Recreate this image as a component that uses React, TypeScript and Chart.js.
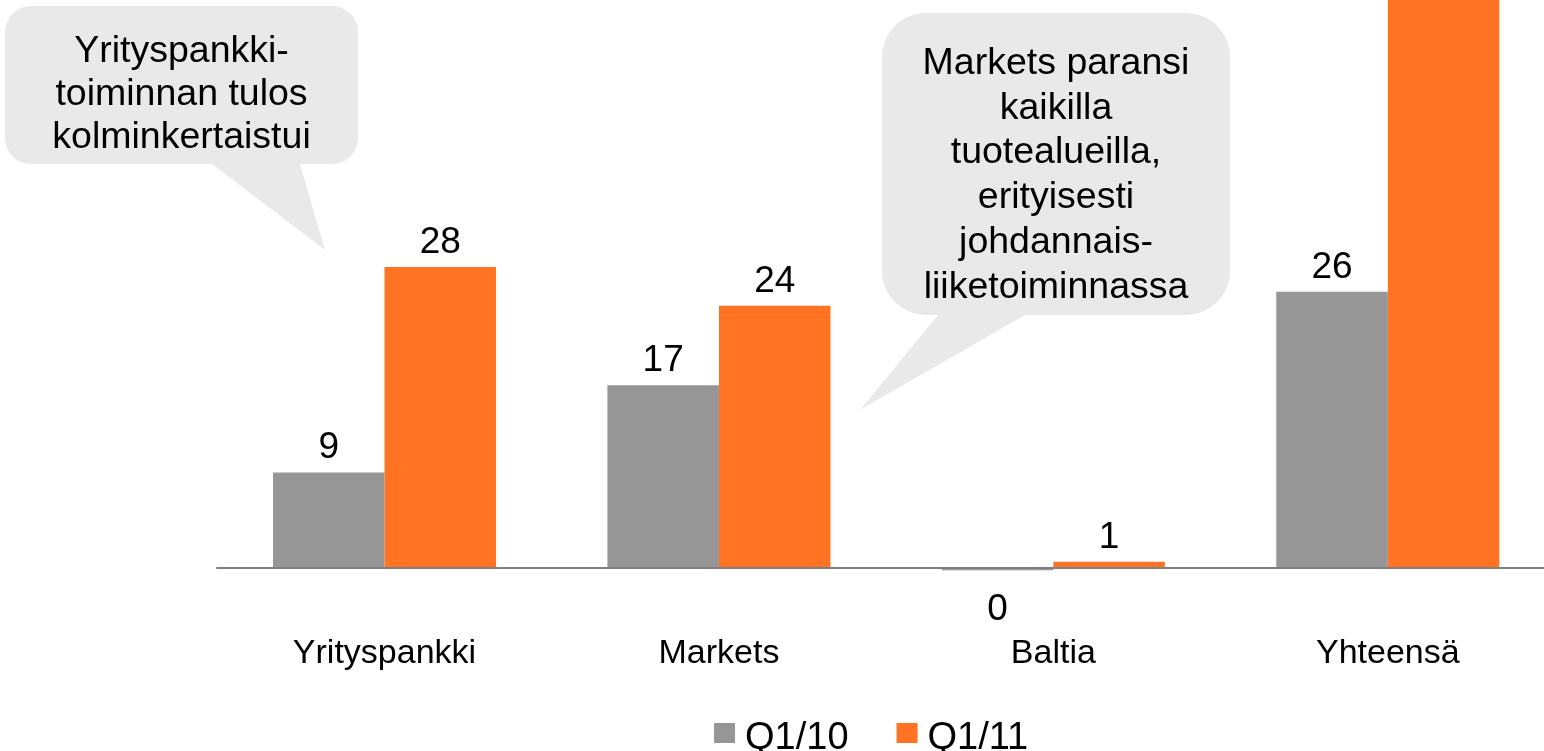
import React, { useEffect, useRef } from "react";
import { Chart, registerables } from "chart.js";

Chart.register(...registerables);

const categories = ["Yrityspankki", "Markets", "Baltia", "Yhteensä"];
const seriesLabels = ["Q1/10", "Q1/11"];
const q110 = [8.9, 17.0, -0.2, 25.7];
const q111 = [28.0, 24.4, 0.6, 53.0];

const FONT = "'Liberation Sans', Arial, Helvetica, sans-serif";
const GRAY = "#969696";
const ORANGE = "#FF7322";
const BUBBLE = "#E9E9E9";

const callouts = [
  {
    box: [5, 6, 358, 164],
    radius: 26,
    tail: [[212, 164], [300, 164], [325, 250]],
    lines: ["Yrityspankki-", "toiminnan tulos", "kolminkertaistui"],
    firstBaseline: 61.5,
    lineGap: 43.4,
  },
  {
    box: [882, 13, 1230, 315],
    radius: 44,
    tail: [[938, 315], [1025, 315], [860, 410]],
    lines: ["Markets paransi", "kaikilla", "tuotealueilla,", "erityisesti", "johdannais-", "liiketoiminnassa"],
    firstBaseline: 74,
    lineGap: 44.7,
  },
];

const overlayPlugin = {
  id: "overlay",
  afterDatasetsDraw(chart: any) {
    const { ctx, chartArea } = chart;
    const y = chart.scales.y;
    // zero line
    const y0 = y.getPixelForValue(0);
    ctx.save();
    ctx.strokeStyle = "#7f7f7f";
    ctx.lineWidth = 2;
    ctx.beginPath();
    ctx.moveTo(chartArea.left - 1, y0);
    ctx.lineTo(chartArea.right, y0);
    ctx.stroke();
    ctx.restore();

    // value labels
    ctx.save();
    ctx.font = `37px ${FONT}`;
    ctx.fillStyle = "#000";
    ctx.textAlign = "center";
    ctx.textBaseline = "alphabetic";
    chart.data.datasets.forEach((ds: any, di: number) => {
      const meta = chart.getDatasetMeta(di);
      meta.data.forEach((bar: any, i: number) => {
        const v = ds.data[i];
        const txt = String(Math.round(v) === 0 ? 0 : Math.round(v));
        if (v >= 0) {
          ctx.fillText(txt, bar.x, bar.y - 14);
        } else {
          ctx.fillText(txt, bar.x, bar.y + 50);
        }
      });
    });
    ctx.restore();
  },
  afterDraw(chart: any) {
    const { ctx, chartArea } = chart;
    // callouts
    callouts.forEach((c) => {
      const [x1, y1, x2, y2] = c.box;
      ctx.save();
      ctx.fillStyle = BUBBLE;
      ctx.beginPath();
      ctx.roundRect(x1, y1, x2 - x1, y2 - y1, c.radius);
      ctx.fill();
      ctx.beginPath();
      ctx.moveTo(c.tail[0][0], c.tail[0][1] - 6);
      ctx.lineTo(c.tail[1][0], c.tail[1][1] - 6);
      ctx.lineTo(c.tail[1][0], c.tail[1][1]);
      ctx.lineTo(c.tail[2][0], c.tail[2][1]);
      ctx.lineTo(c.tail[0][0], c.tail[0][1]);
      ctx.closePath();
      ctx.fill();
      ctx.fillStyle = "#000";
      ctx.font = `37.5px ${FONT}`;
      ctx.textAlign = "center";
      ctx.textBaseline = "alphabetic";
      const cx = (x1 + x2) / 2;
      c.lines.forEach((l, i) => ctx.fillText(l, cx, c.firstBaseline + i * c.lineGap));
      ctx.restore();
    });

    // legend
    ctx.save();
    ctx.font = `38px ${FONT}`;
    ctx.textBaseline = "alphabetic";
    ctx.textAlign = "left";
    const items = chart.data.datasets.map((ds: any) => ({
      label: ds.label,
      color: ds.backgroundColor,
      w: ctx.measureText(ds.label).width,
    }));
    const sq = 21, gap = 10, between = 48;
    let total = 0;
    items.forEach((it: any, i: number) => {
      total += sq + gap + it.w + (i < items.length - 1 ? between : 0);
    });
    let x = (chartArea.left + chartArea.right) / 2 - 15 - total / 2;
    items.forEach((it: any) => {
      ctx.fillStyle = it.color;
      ctx.fillRect(x, 723, sq, 20);
      ctx.fillStyle = "#000";
      ctx.fillText(it.label, x + sq + gap, 749);
      x += sq + gap + it.w + between;
    });
    ctx.restore();
  },
};

export default function App() {
  const ref = useRef<HTMLCanvasElement | null>(null);
  useEffect(() => {
    document.body.style.margin = "0";
    document.body.style.overflow = "hidden";
    const canvas = ref.current!;
    const chart = new Chart(canvas, {
      type: "bar",
      data: {
        labels: categories,
        datasets: [
          { label: seriesLabels[0], data: q110, backgroundColor: GRAY, borderWidth: 0 },
          { label: seriesLabels[1], data: q111, backgroundColor: ORANGE, borderWidth: 0 },
        ],
      },
      options: {
        responsive: false,
        animation: false,
        devicePixelRatio: 1,
        layout: { padding: { left: 217.3, right: 0, top: 0, bottom: 32.6 } },
        datasets: { bar: { categoryPercentage: 0.667, barPercentage: 1 } },
        scales: {
          x: {
            grid: { display: false, drawTicks: false },
            border: { display: false },
            ticks: { font: { size: 34, family: FONT }, color: "#000", padding: 44 },
          },
          y: { display: false, min: -2, max: 52.84 },
        },
        plugins: { legend: { display: false }, tooltip: { enabled: false } },
      },
      plugins: [overlayPlugin],
    });
    return () => chart.destroy();
  }, []);
  return (
    <div style={{ position: "fixed", left: 0, top: 0, width: 1544, height: 751, overflow: "hidden", background: "#fff" }}>
      <canvas ref={ref} width={1555} height={751} style={{ width: 1555, height: 751, display: "block" }} />
    </div>
  );
}
